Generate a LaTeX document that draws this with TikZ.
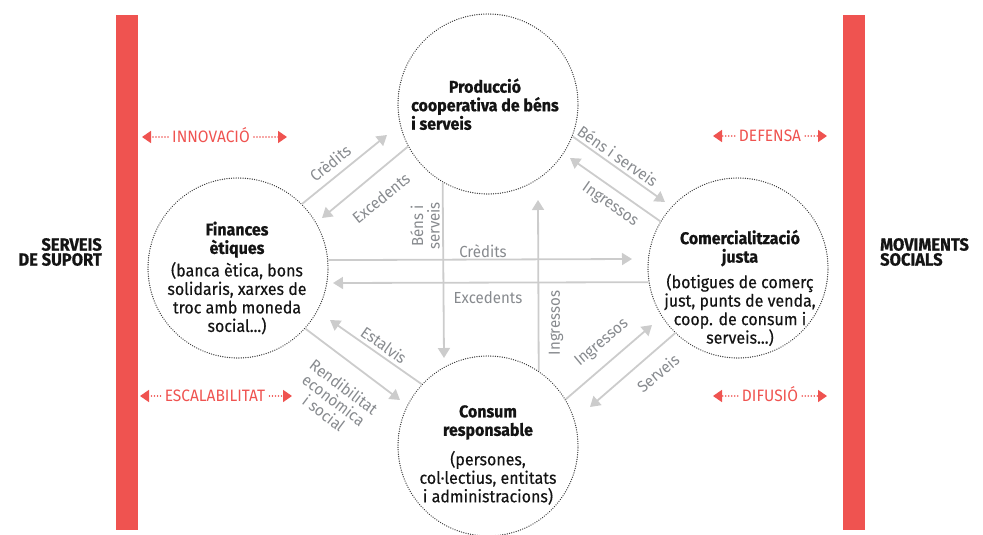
\documentclass[tikz,border=0pt]{standalone}
\usepackage{fontspec}
\setmainfont{Fira Sans}[FakeStretch=0.94, BoldFeatures={FakeBold=0.8}]
\newfontfamily\descfont{Fira Sans}[FakeStretch=0.94, FakeBold=0.35]
\usetikzlibrary{arrows.meta}
\definecolor{barred}{RGB}{239,83,80}
\definecolor{flowgray}{RGB}{204,204,204}
\definecolor{labgray}{RGB}{135,138,142}
\definecolor{ringgray}{RGB}{60,60,60}
\definecolor{ink}{RGB}{20,20,20}
\begin{document}
\begin{tikzpicture}[x=1pt,y=-1pt,
  ring/.style={circle, draw=ringgray, line width=1.4pt, line cap=round, dash pattern=on 0.01pt off 2.3pt, minimum size=180pt, inner sep=0pt},
  flow/.style={draw=flowgray, line width=1.8pt, -{Triangle[length=10pt,width=12pt]}},
  flowlab/.style={text=labgray, inner sep=0pt, font=\fontsize{16}{16.5}\selectfont},
  ctext/.style={text=ink, align=center, inner sep=0pt, font=\descfont\fontsize{17}{18.5}\selectfont},
  side/.style={text=ink, inner sep=0pt, font=\bfseries\fontsize{17.5}{15}\selectfont},
  bar/.style={fill=barred, minimum width=22pt, minimum height=515pt, inner sep=0pt},
  redlab/.style={text=barred, inner sep=0pt, font=\fontsize{16.5}{17}\selectfont},
  reddots/.style={draw=barred, line width=1.6pt, line cap=round, dash pattern=on 0.01pt off 3pt, -{Triangle[length=9pt,width=12pt]}, shorten <=4pt},
]
\newcommand{\ttl}[1]{{\normalfont\fontsize{17}{18.5}\selectfont\bfseries #1}}
\useasboundingbox (0,0) rectangle (983,535);

% side bars
\node[bar] (barL) at (127,272.5) {};
\node[bar] (barR) at (854,272.5) {};

% side labels
\node[side, align=right, anchor=east] (suport) at (102,252) {SERVEIS\\DE SUPORT};
\node[side, align=left, anchor=west] (movim) at (880,252) {MOVIMENTS\\SOCIALS};

% circles
\node[ring] (prod) at (488,104) {};
\node[ring] (fin) at (238,268) {};
\node[ring] (com) at (738,268) {};
\node[ring] (cons) at (488,446) {};

% circle texts
\node[ctext] (prodT) at (485,106) {\ttl{Producció}\\\ttl{cooperativa de béns}\\\rlap{\ttl{i serveis}}\phantom{\ttl{cooperativa de béns}}};
\node[ctext] (finT) at (237,278) {\ttl{Finances}\\\ttl{ètiques}\\[4pt](banca ètica, bons\\solidaris, xarxes de\\troc amb moneda\\social...)};
\node[ctext] (comT) at (740,288) {\ttl{Comercialització}\\\ttl{justa}\\[7pt](botigues de comerç\\just, punts de venda,\\coop. de consum i\\serveis...)};
\node[ctext] (consT) at (488,455) {\ttl{Consum}\\\ttl{responsable}\\[11pt](persones,\\col·lectius, entitats\\i administracions)};

% flows
\coordinate (hCred1) at (387,135);
\coordinate (hExc1) at (322,218);
\coordinate (hBens1) at (665,202);
\coordinate (hIng1) at (570,158);
\coordinate (hBens2) at (444,358);
\coordinate (hIng2) at (538,200);
\coordinate (hCred2) at (632,259);
\coordinate (hExc2) at (333,283);
\coordinate (hEst) at (330,320);
\coordinate (hRend) at (400,400);
\coordinate (hIng3) at (652,325);
\coordinate (hServ) at (590,407);

\draw[flow] (fin.45) -- (hCred1);
\draw[flow] (prod.208.5) -- (hExc1);
\draw[flow] (prod.-21.2) -- (hBens1);
\draw[flow] (com.149.5) -- (hIng1);
\draw[flow] (prod.240.7) -- (hBens2);
\draw[flow] (cons.56.2) -- (hIng2);
\draw[flow] (fin.5.7) -- (hCred2);
\draw[flow] (com.189.6) -- (hExc2);
\draw[flow] (cons.137.2) -- (hEst);
\draw[flow] (fin.-42.8) -- (hRend);
\draw[flow] (cons.31.8) -- (hIng3);
\draw[flow] (com.226.8) -- (hServ);

% flow labels
\node[flowlab, rotate=39] (lCred1) at (330,163) {Crèdits};
\node[flowlab, rotate=39] (lExc1) at (381,198) {Excedents};
\node[flowlab, rotate=-35] (lBens1) at (618,156) {Béns i serveis};
\node[flowlab, rotate=-35] (lIng1) at (610,205) {Ingressos};
\node[flowlab, rotate=90, align=center] (lBens2) at (425,226) {Béns i\\serveis};
\node[flowlab, rotate=90] (lIng2) at (556,323) {Ingressos};
\node[flowlab] (lCred2) at (483,251) {Crèdits};
\node[flowlab] (lExc2) at (488,298) {Excedents};
\node[flowlab, rotate=-35] (lEst) at (384,345) {Estalvis};
\node[flowlab, rotate=-37, align=center] (lRend) at (334,400) {Rendibilitat\\econòmica\\i social};
\node[flowlab, rotate=40] (lIng3) at (602,343) {Ingressos};
\node[flowlab, rotate=40] (lServ) at (658,373) {Serveis};

% red side arrows
\coordinate (innoL) at (142,137);
\coordinate (innoR) at (287,137);
\node[redlab, anchor=base] (innoT) at (211,142) {INNOVACIÓ};
\draw[reddots] (innoT.west |- innoL) -- (innoL);
\draw[reddots] (innoT.east |- innoR) -- (innoR);

\coordinate (defL) at (713,136);
\coordinate (defR) at (827,136);
\node[redlab, anchor=base] (defT) at (770,141) {DEFENSA};
\draw[reddots] (defT.west |- defL) -- (defL);
\draw[reddots] (defT.east |- defR) -- (defR);

\coordinate (escL) at (140,396);
\coordinate (escR) at (292,396);
\node[redlab, anchor=base] (escT) at (215,401.5) {ESCALABILITAT};
\draw[reddots] (escT.west |- escL) -- (escL);
\draw[reddots] (escT.east |- escR) -- (escR);

\coordinate (difL) at (713,396);
\coordinate (difR) at (827,396);
\node[redlab, anchor=base] (difT) at (770,401.5) {DIFUSIÓ};
\draw[reddots] (difT.west |- difL) -- (difL);
\draw[reddots] (difT.east |- difR) -- (difR);
\end{tikzpicture}
\end{document}
